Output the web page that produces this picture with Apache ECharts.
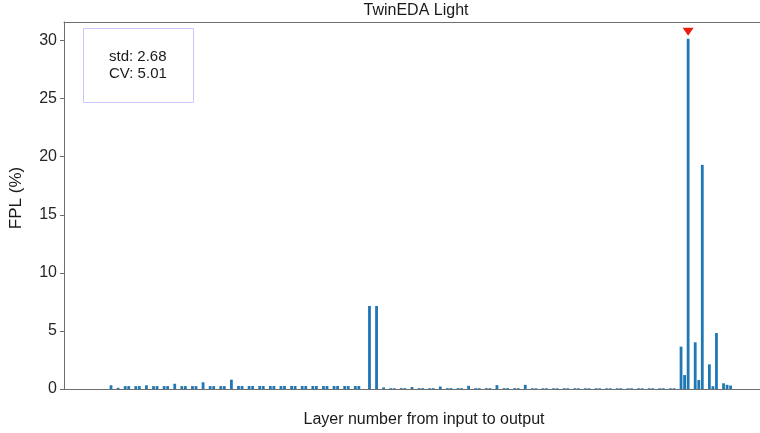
<!DOCTYPE html>
<html>
<head>
<meta charset="utf-8">
<script src="https://cdn.jsdelivr.net/npm/echarts@6/dist/echarts.min.js"></script>
<style>
  html, body { margin: 0; padding: 0; background: #fff; }
  #chart { width: 760px; height: 433px; }
</style>
</head>
<body>
<div id="chart"></div>
<script>
// Per-layer FPL (%) from input (layer 0) to output (layer 175)
const fplValues = [
  0.32, 0, 0.10, 0, 0.25, 0.25, 0, 0.25, 0.25, 0,
  0.32, 0, 0.25, 0.25, 0, 0.25, 0.25, 0,
  0.45, 0, 0.25, 0.25, 0, 0.25, 0.25, 0,
  0.58, 0, 0.25, 0.25, 0, 0.25, 0.25, 0,
  0.80, 0, 0.26, 0.26, 0, 0.26, 0.26, 0, 0.26, 0.26, 0,
  0.26, 0.26, 0, 0.26, 0.26, 0, 0.26, 0.26, 0, 0.26, 0.26, 0,
  0.26, 0.26, 0, 0.26, 0.26, 0, 0.26, 0.26, 0, 0.26, 0.26, 0,
  0.26, 0.26, 0, 0, 7.15, 0, 7.15, 0,
  0.14, 0, 0.07, 0.07, 0, 0.07, 0.07, 0,
  0.17, 0, 0.07, 0.07, 0, 0.07, 0.07, 0,
  0.21, 0, 0.07, 0.07, 0, 0.07, 0.07, 0,
  0.27, 0, 0.07, 0.07, 0, 0.07, 0.07, 0,
  0.33, 0, 0.07, 0.07, 0, 0.07, 0.07, 0,
  0.36, 0, 0.06, 0.06, 0, 0.06, 0.06, 0, 0.06, 0.06, 0,
  0.06, 0.06, 0, 0.06, 0.06, 0, 0.06, 0.06, 0, 0.06, 0.06, 0,
  0.06, 0.06, 0, 0.06, 0.06, 0, 0.06, 0.06, 0, 0.06, 0.06, 0,
  0.06, 0.06, 0, 0.06, 0.06, 0, 0.06, 0.06, 0,
  3.65, 1.20, 30.15, 0, 4.02, 0.78, 19.30, 0,
  2.12, 0.24, 4.82, 0, 0.49, 0.36, 0.30
];

// Axis tick labels for FPL
const yTicks = [0, 5, 10, 15, 20, 25, 30];

// Summary statistics shown in the box
const statStd = '2.68';
const statCv = '5.01';

const chartTitle = 'TwinEDA Light';
const xTitle = 'Layer number from input to output';
const yTitle = 'FPL (%)';

const FONT = '"Liberation Sans", Arial, sans-serif';
const SPINE = '#6e6e6e';

// Horizontal extent in layer units (padding either side of the layers)
const X_MIN = -13.28;
const X_MAX = 183.3;

const barData = fplValues.map((v, i) => [i, v]);

const spine = { show: true, onZero: false, lineStyle: { color: SPINE, width: 1 } };

const chart = echarts.init(document.getElementById('chart'), null, { renderer: 'canvas' });

chart.setOption({
  animation: false,
  backgroundColor: '#ffffff',
  grid: { left: 64, right: 0, top: 22, bottom: 44, show: false },
  xAxis: [
    {
      type: 'value', position: 'bottom', min: X_MIN, max: X_MAX,
      axisLine: spine,
      axisTick: { show: false },
      axisLabel: { show: false },
      splitLine: { show: false }
    },
    {
      // top frame line
      type: 'value', position: 'top', min: X_MIN, max: X_MAX,
      axisLine: spine,
      axisTick: { show: false },
      axisLabel: { show: false },
      splitLine: { show: false }
    }
  ],
  yAxis: {
    type: 'value',
    min: 0,
    max: 31.6,
    axisLine: spine,
    axisTick: {
      show: true, length: 4, inside: false,
      customValues: yTicks,
      lineStyle: { color: SPINE, width: 1 }
    },
    axisLabel: {
      customValues: yTicks,
      fontSize: 16, color: '#262626', fontFamily: FONT, margin: 7
    },
    splitLine: { show: false }
  },
  series: [{
    type: 'bar',
    xAxisIndex: 0,
    data: barData,
    barWidth: 2.8,
    itemStyle: { color: '#1f77b4' },
    markPoint: {
      symbol: 'triangle',
      symbolSize: [11, 8],
      symbolRotate: 180,
      symbolOffset: [0, -7],
      itemStyle: { color: '#ee1c10' },
      label: { show: false },
      data: [{ type: 'max', valueDim: 'y' }]
    }
  }],
  graphic: [
    {
      type: 'text', x: 416, y: 3,
      style: { text: chartTitle, font: '16px ' + FONT, fill: '#1a1a1a', textAlign: 'center' }
    },
    {
      type: 'text', x: 424, y: 412,
      style: { text: xTitle, font: '16px ' + FONT, fill: '#1a1a1a', textAlign: 'center' }
    },
    {
      type: 'text', x: 16, y: 198, rotation: Math.PI / 2,
      style: { text: yTitle, font: '17px ' + FONT, fill: '#1a1a1a', textAlign: 'center', textVerticalAlign: 'middle' }
    },
    {
      type: 'rect', x: 83.5, y: 28.5,
      shape: { width: 110, height: 74 },
      style: { fill: '#ffffff', stroke: '#c8c8ff', lineWidth: 1 },
      z: 10
    },
    {
      type: 'text', x: 109, y: 48,
      style: { text: 'std: ' + statStd + '\nCV: ' + statCv, font: '15px ' + FONT, fill: '#1a1a1a', lineHeight: 17.5 },
      z: 11
    }
  ]
});
</script>
</body>
</html>
